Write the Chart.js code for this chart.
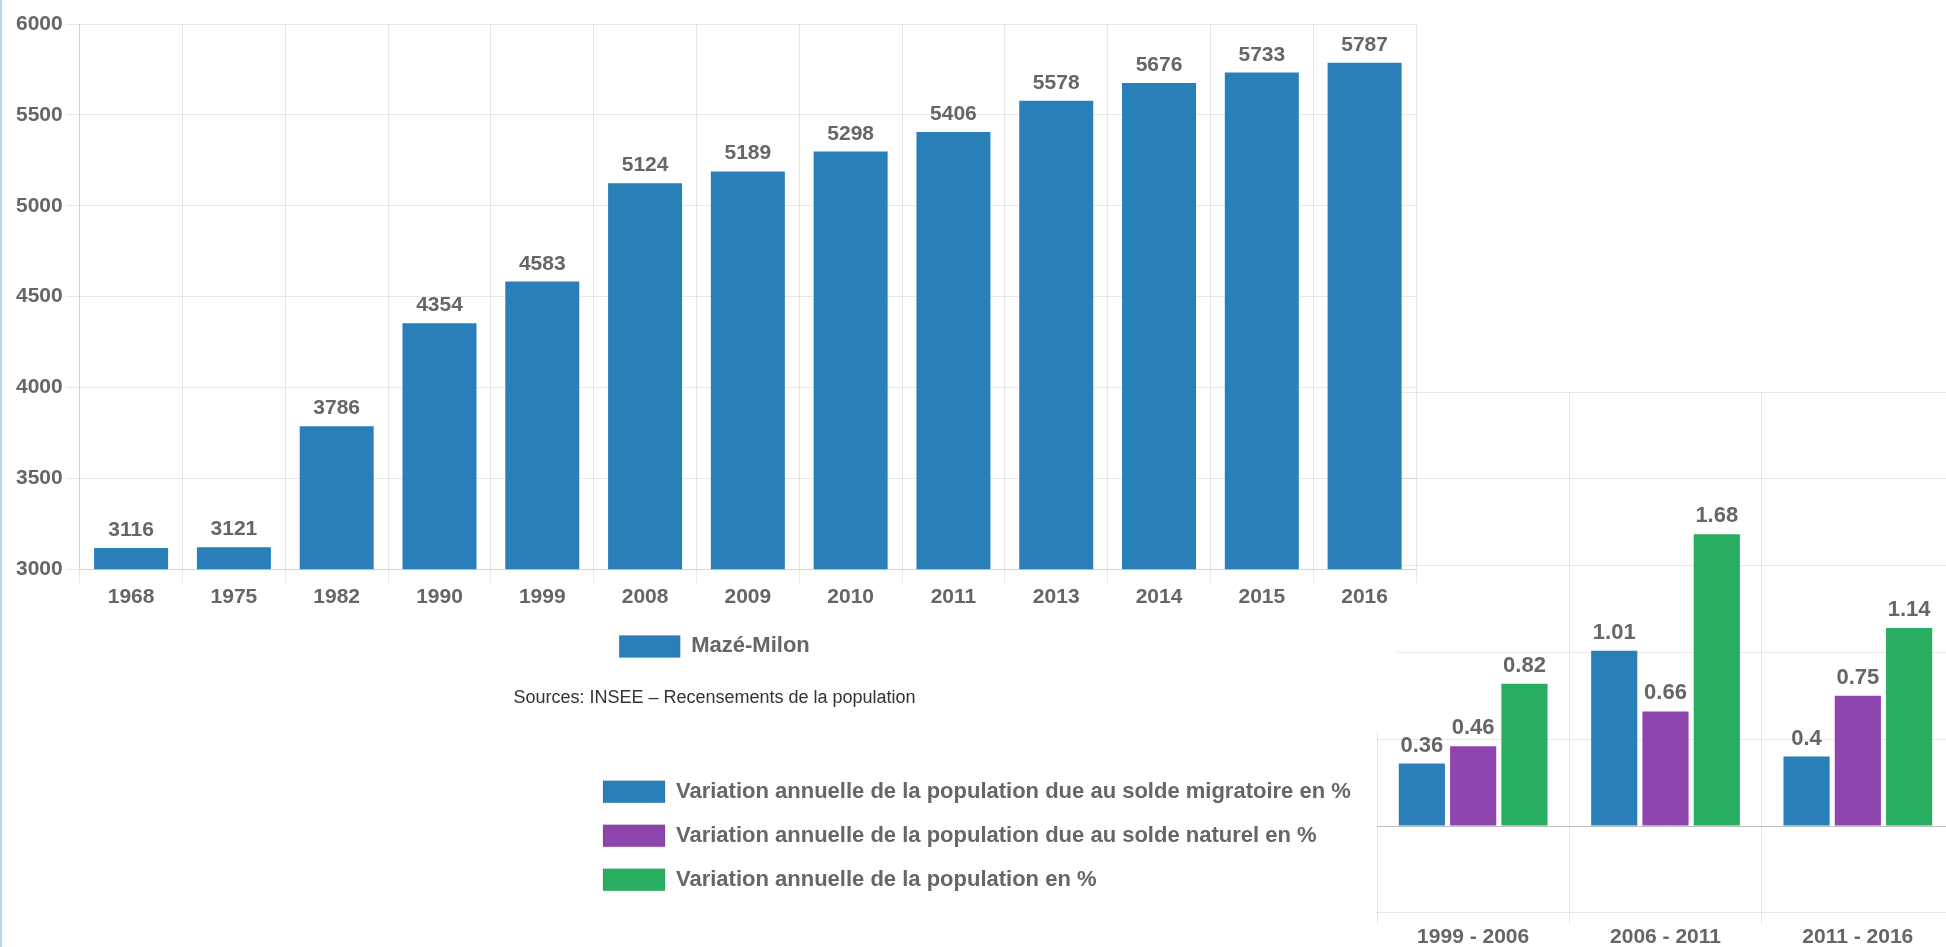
<!DOCTYPE html>
<html>
<head>
    <meta charset="utf-8">
    <title>Mazé-Milon population</title>
    <script src="https://cdn.jsdelivr.net/npm/chart.js"></script>
    <style>
        html, body { margin: 0; padding: 0; background: #fff; overflow: hidden; }
        #page { position: relative; width: 1946px; height: 947px; overflow: hidden; }
        #edge { position: absolute; left: 0; top: 0; width: 2px; height: 947px; background: #b3d8f1; z-index: 5; }
        #popBox { position: absolute; left: 0; top: 0; width: 1397px; height: 732px; background: #fff; z-index: 2; }
        #popChart { position: absolute; left: 0; top: 0; }
        #varChart { position: absolute; left: 581px; top: 380px; z-index: 1; }
    </style>
</head>
<body>
<div id="page">
    <div id="edge"></div>
    <!-- second chart sits underneath -->
    <canvas id="varChart" width="1373" height="580"></canvas>
    <div id="popBox">
        <canvas id="popChart" width="1429" height="719"></canvas>
    </div>
</div>

<script>
    // population chart data
    const years = ['1968', '1975', '1982', '1990', '1999', '2008', '2009', '2010', '2011', '2013', '2014', '2015', '2016'];
    const population = [3116, 3121, 3786, 4354, 4583, 5124, 5189, 5298, 5406, 5578, 5676, 5733, 5787];
    const popTicks = [3000, 3500, 4000, 4500, 5000, 5500, 6000];

    // annual variation chart data
    const periods = ['1999 - 2006', '2006 - 2011', '2011 - 2016'];
    const soldeMigratoire = [0.36, 1.01, 0.4];
    const soldeNaturel = [0.46, 0.66, 0.75];
    const variationTotale = [0.82, 1.68, 1.14];

    const BLUE = '#2980b9';
    const PURPLE = '#8e44ad';
    const GREEN = '#27ae60';
    const TEXT = '#666';

    Chart.defaults.font.family = '"Liberation Sans", Arial, sans-serif';
    Chart.defaults.color = TEXT;

    // values written above each bar
    const valueLabels = {
        id: 'valueLabels',
        afterDatasetsDraw(chart, args, opts) {
            const ctx = chart.ctx;
            ctx.save();
            ctx.font = 'bold ' + opts.size + 'px "Liberation Sans", Arial, sans-serif';
            ctx.fillStyle = TEXT;
            ctx.textAlign = 'center';
            ctx.textBaseline = 'alphabetic';
            chart.data.datasets.forEach((ds, i) => {
                const meta = chart.getDatasetMeta(i);
                meta.data.forEach((bar, j) => {
                    ctx.fillText(String(ds.data[j]), bar.x, bar.y - 12);
                });
            });
            ctx.restore();
        }
    };

    function outlinedLabels(chart) {
        return Chart.defaults.plugins.legend.labels.generateLabels(chart).map(item => {
            item.strokeStyle = 'rgba(0,0,0,0.1)';
            item.lineWidth = 1;
            return item;
        });
    }

    new Chart(document.getElementById('popChart'), {
        type: 'bar',
        data: {
            labels: years,
            datasets: [{
                label: 'Mazé-Milon',
                data: population,
                backgroundColor: BLUE,
                borderWidth: 0
            }]
        },
        options: {
            responsive: false,
            animation: false,
            layout: { padding: { left: 13, right: 13, top: 24, bottom: 10 } },
            scales: {
                x: {
                    grid: { color: 'rgba(0,0,0,0.09)', tickLength: 14 },
                    border: { color: 'rgba(0,0,0,0.09)' },
                    ticks: { padding: 1, font: { size: 21, weight: 'bold' }, color: TEXT }
                },
                y: {
                    min: 3000,
                    max: 6000,
                    afterBuildTicks: axis => { axis.ticks = popTicks.map(v => ({ value: v })); },
                    grid: { color: 'rgba(0,0,0,0.09)', tickLength: 14 },
                    border: { color: 'rgba(0,0,0,0.09)' },
                    ticks: {
                        padding: 3,
                        font: { size: 21, weight: 'bold' },
                        color: TEXT,
                        callback: v => String(v)
                    }
                }
            },
            plugins: {
                legend: {
                    position: 'bottom',
                    labels: {
                        boxWidth: 61,
                        boxHeight: 22,
                        padding: 25,
                        font: { size: 22, weight: 'bold' },
                        color: TEXT,
                        generateLabels: outlinedLabels
                    }
                },
                subtitle: {
                    display: true,
                    position: 'bottom',
                    text: 'Sources: INSEE – Recensements de la population',
                    color: '#333',
                    font: { size: 18, weight: 'normal' },
                    padding: { top: 20, bottom: 0 }
                },
                tooltip: { enabled: false },
                valueLabels: { size: 21 }
            }
        },
        plugins: [valueLabels]
    });

    new Chart(document.getElementById('varChart'), {
        type: 'bar',
        data: {
            labels: periods,
            datasets: [
                {
                    label: 'Variation annuelle de la population due au solde migratoire en %',
                    data: soldeMigratoire,
                    backgroundColor: BLUE,
                    borderWidth: 0
                },
                {
                    label: 'Variation annuelle de la population due au solde naturel en %',
                    data: soldeNaturel,
                    backgroundColor: PURPLE,
                    borderWidth: 0
                },
                {
                    label: 'Variation annuelle de la population en %',
                    data: variationTotale,
                    backgroundColor: GREEN,
                    borderWidth: 0
                }
            ]
        },
        options: {
            responsive: false,
            animation: false,
            layout: { padding: { left: 0, right: 0, top: 12, bottom: 10 } },
            scales: {
                x: {
                    grid: { color: 'rgba(0,0,0,0.09)', tickLength: 12 },
                    border: { display: false },
                    ticks: { padding: 0, font: { size: 21, weight: 'bold' }, color: TEXT }
                },
                y: {
                    min: -0.5,
                    max: 2.5,
                    ticks: { display: false, stepSize: 0.5 },
                    grid: {
                        drawTicks: false,
                        color: ctx => ctx.tick && ctx.tick.value === 0 ? 'rgba(0,0,0,0.25)' : 'rgba(0,0,0,0.09)'
                    },
                    border: { display: false },
                    // leave the plot starting where the reference has it
                    afterFit: axis => {
                        const lg = axis.chart.legend;
                        axis.width = Math.max(0, 1377 - 581 - (lg ? lg.width : 0));
                    }
                }
            },
            plugins: {
                legend: {
                    position: 'left',
                    align: 'end',
                    fullSize: false,
                    maxWidth: 790,
                    labels: {
                        boxWidth: 62,
                        boxHeight: 22,
                        padding: 22,
                        font: { size: 22, weight: 'bold' },
                        color: TEXT,
                        generateLabels: outlinedLabels
                    }
                },
                tooltip: { enabled: false },
                valueLabels: { size: 22 }
            }
        },
        plugins: [valueLabels]
    });
</script>
</body>
</html>
